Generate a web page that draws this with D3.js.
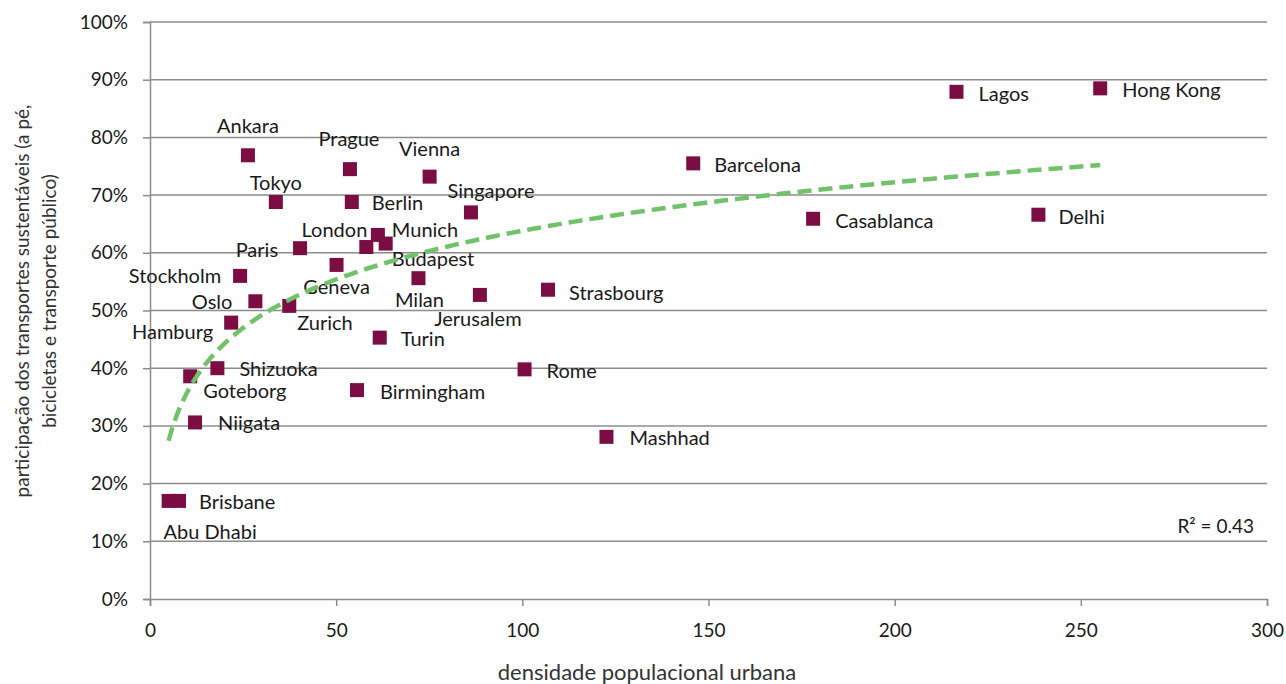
<!DOCTYPE html>
<html>
<head>
<meta charset="utf-8">
<script src="https://cdn.jsdelivr.net/npm/d3@7"></script>
<style>
  html, body { margin: 0; padding: 0; background: #fff; }
  svg { display: block; font-family: Lato, "Open Sans", sans-serif; }
</style>
</head>
<body>
<svg id="chart" width="1286" height="684"></svg>
<script>
// City data: urban population density vs. share of sustainable transport (%)
const cities = ["Ankara","Prague","Vienna","Tokyo","Berlin","Singapore","London","Munich","Budapest",
  "Paris","Geneva","Stockholm","Milan","Jerusalem","Strasbourg","Oslo","Zurich","Hamburg","Turin",
  "Shizuoka","Goteborg","Birmingham","Niigata","Brisbane","Abu Dhabi","Rome","Mashhad","Barcelona",
  "Casablanca","Lagos","Delhi","Hong Kong"];
const density = [26.3,53.7,75.1,33.8,54.2,86.2,58.1,61.2,63.3,
  40.3,50.1,24.2,72.1,88.6,106.9,28.3,37.4,21.8,61.7,
  18.1,10.8,55.6,12.1,7.8,5.0,100.6,122.6,145.9,
  178.1,216.6,238.6,255.2];
const sharePct = [76.9,74.5,73.2,68.8,68.8,67.0,61.0,63.1,61.6,
  60.8,57.9,56.0,55.6,52.7,53.6,51.6,50.8,47.9,45.3,
  40.0,38.6,36.2,30.6,17.0,17.0,39.8,28.1,75.5,
  65.9,87.9,66.6,88.5];
const xTicks = [0,50,100,150,200,250,300];
const yTicks = [0,10,20,30,40,50,60,70,80,90,100];
const r2Text = "R² = 0.43";

// Label placement relative to each marker: [dx, dy, text-anchor]
const labelPlacement = [
  [0,-29,"middle"],[-1,-30,"middle"],[0,-28,"middle"],[0,-19,"middle"],[20,1,"start"],[20,-21,"middle"],
  [1,-17,"end"],[14,-5,"start"],[6,15,"start"],
  [-22,2,"end"],[0,22,"middle"],[-19,0,"end"],[1,22,"middle"],[-2,24,"middle"],[21,3,"start"],
  [-23,1,"end"],[8,17,"start"],[-18,9,"end"],[21,1,"start"],
  [22,1,"start"],[13,15,"start"],[23,2,"start"],[23,1,"start"],[20,1,"start"],[-5,31,"start"],
  [22,2,"start"],[23,1,"start"],[21,2,"start"],
  [22,2,"start"],[22,2,"start"],[20,2,"start"],[22,2,"start"]
];

const svg = d3.select("#chart");
const plot = { left: 150, right: 1267, top: 22, bottom: 599 };

const x = d3.scaleLinear().domain([0, 300]).range([plot.left, plot.right]);
const y = d3.scaleLinear().domain([0, 100]).range([plot.bottom, plot.top]);

const gridColor = "#8c8c8c";
const textColor = "#1a1a1a";

// Horizontal gridlines
svg.append("g")
  .selectAll("line")
  .data(yTicks.filter(d => d > 0))
  .join("line")
  .attr("x1", plot.left).attr("x2", plot.right)
  .attr("y1", d => y(d)).attr("y2", d => y(d))
  .attr("stroke", gridColor).attr("stroke-width", 1.5);

// Y axis
const yAxis = svg.append("g")
  .attr("transform", `translate(${plot.left},0)`)
  .call(d3.axisLeft(y).tickValues(yTicks).tickFormat(d => d + "%").tickSize(7).tickPadding(15));
yAxis.select(".domain").attr("stroke", gridColor).attr("stroke-width", 1.5);
yAxis.selectAll(".tick line").attr("stroke", gridColor).attr("stroke-width", 1.5);
yAxis.selectAll(".tick text").attr("font-family", "Lato, sans-serif").attr("font-size", 19).attr("fill", textColor);

// X axis
const xAxis = svg.append("g")
  .attr("transform", `translate(0,${plot.bottom})`)
  .call(d3.axisBottom(x).tickValues(xTicks).tickSize(7).tickSizeOuter(7).tickPadding(18));
xAxis.select(".domain").attr("stroke", gridColor).attr("stroke-width", 1.5);
xAxis.selectAll(".tick line").attr("stroke", gridColor).attr("stroke-width", 1.5);
xAxis.selectAll(".tick text").attr("font-family", "Lato, sans-serif").attr("font-size", 19).attr("fill", textColor);

// Markers
const points = cities.map((c, i) => ({ name: c, dx: density[i], sy: sharePct[i], place: labelPlacement[i] }));
const size = 14;
svg.append("g")
  .selectAll("rect")
  .data(points)
  .join("rect")
  .attr("x", d => x(d.dx) - size / 2)
  .attr("y", d => y(d.sy) - size / 2)
  .attr("width", size).attr("height", size)
  .attr("fill", "#7b0d42");

// City labels
svg.append("g")
  .selectAll("text")
  .data(points)
  .join("text")
  .attr("x", d => x(d.dx) + d.place[0])
  .attr("y", d => y(d.sy) + d.place[1])
  .attr("dy", "0.35em")
  .attr("text-anchor", d => d.place[2])
  .attr("font-size", 20)
  .attr("fill", textColor)
  .text(d => d.name);

// Logarithmic trend line fitted to the data: share = a*ln(density) + b
const lx = density.map(Math.log);
const mx = d3.mean(lx), my = d3.mean(sharePct);
const a = d3.sum(lx, (v, i) => (v - mx) * (sharePct[i] - my)) / d3.sum(lx, v => (v - mx) ** 2);
const b = my - a * mx;
const xMin = d3.min(density), xMax = d3.max(density);
const trend = d3.range(0, 201).map(i => {
  const dv = xMin * Math.pow(xMax / xMin, i / 200);
  return [dv, a * Math.log(dv) + b];
});
svg.append("path")
  .datum(trend)
  .attr("d", d3.line().x(d => x(d[0])).y(d => y(d[1])).curve(d3.curveMonotoneX))
  .attr("fill", "none")
  .attr("stroke", "#71c26a")
  .attr("stroke-width", 4.5)
  .attr("stroke-dasharray", "14,7");

// R² annotation
svg.append("text")
  .attr("x", 1254).attr("y", 526).attr("dy", "0.35em")
  .attr("text-anchor", "end")
  .attr("font-size", 19).attr("fill", textColor)
  .text(r2Text);

// Axis titles
svg.append("text")
  .attr("x", 647).attr("y", 672).attr("dy", "0.35em")
  .attr("text-anchor", "middle")
  .attr("font-size", 22).attr("fill", "#333")
  .text("densidade populacional urbana");

const yTitle = svg.append("text")
  .attr("transform", "translate(22,301) rotate(-90)")
  .attr("text-anchor", "middle")
  .attr("font-size", 19).attr("fill", "#333");
yTitle.append("tspan").attr("x", 0).attr("y", 0).attr("dy", "0.35em")
  .text("participação dos transportes sustentáveis (a pé,");
yTitle.append("tspan").attr("x", 0).attr("y", 27).attr("dy", "0.35em")
  .text("bicicletas e transporte público)");
</script>
</body>
</html>
